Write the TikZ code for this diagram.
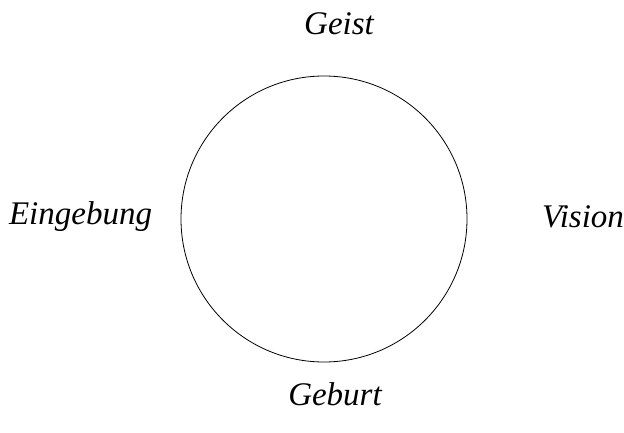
\documentclass[tikz,border=0pt]{standalone}
\usepackage{fontspec}
\setmainfont{Liberation Serif}
\begin{document}
\begin{tikzpicture}[x=1pt,y=-1pt,
  lbl/.style={font=\fontsize{33}{40}\selectfont\itshape, inner sep=0pt}]
\useasboundingbox (0,0) rectangle (624,433);
\node[draw, circle, minimum size=286pt, inner sep=0pt, line width=0.8pt] (c) at (324,219) {};
\node[lbl] (geist) at (339,24) {Geist};
\node[lbl] (vision) at (583,217) {Vision};
\node[lbl] (eing) at (80.5,217) {Eingebung};
\node[lbl] (geburt) at (335,394) {Geburt};
\end{tikzpicture}
\end{document}
